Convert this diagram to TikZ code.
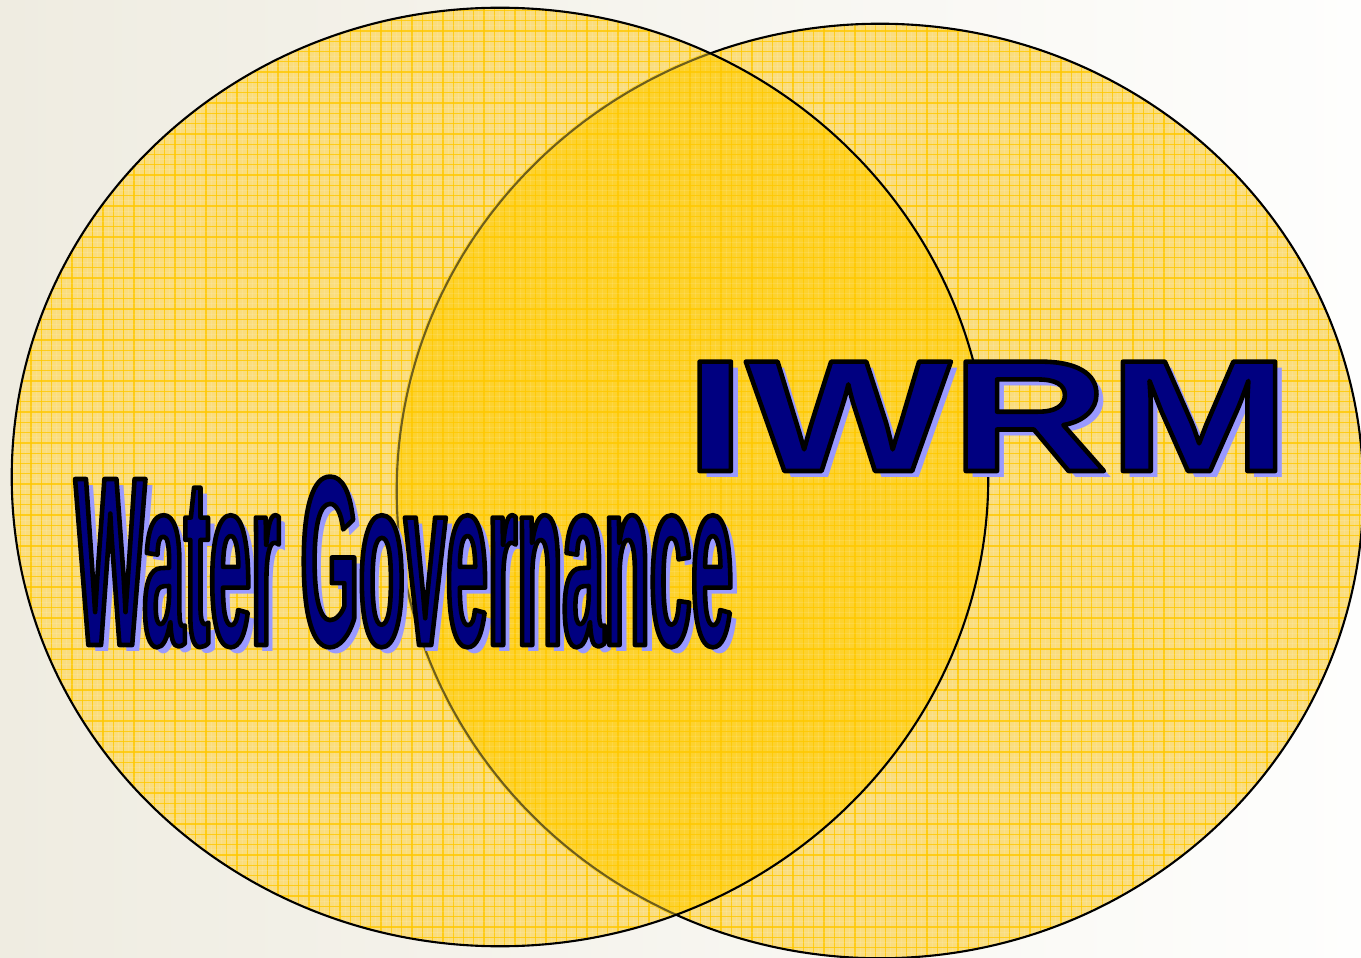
\documentclass[tikz,border=0pt]{standalone}
\usepackage{fontspec}
\setmainfont{Liberation Sans}
\newfontfamily\wgfont[FakeStretch=0.31]{Liberation Sans}
\newfontfamily\iwfont[FakeStretch=1.37]{Liberation Sans}
\definecolor{bgleft}{HTML}{EFECE1}
\definecolor{bgright}{HTML}{FEFEFD}
\definecolor{lightyel}{HTML}{FADD7E}
\definecolor{darkyel}{HTML}{FDD22E}
\definecolor{gridyel}{HTML}{FFC800}
\definecolor{dimline}{HTML}{6E5E1C}
\definecolor{navytext}{HTML}{000080}
\definecolor{shadowblue}{HTML}{9999FF}
\newcommand\WGtext{{\wgfont\bfseries\fontsize{68.6pt}{70pt}\selectfont Water Governance}}
\newcommand\IWtext{{\iwfont\bfseries\fontsize{45.2pt}{46pt}\selectfont IWRM}}
\newcommand\stroketext[1]{\special{pdf:literal direct 0 0 0 RG 1.3 w 1 j 2 Tr}#1\special{pdf:literal direct 0 Tr}}
\begin{document}
\begin{tikzpicture}[x=0.01cm,y=-0.01cm,
  lefte/.style={x radius=4.88cm, y radius=4.69cm},
  righte/.style={x radius=4.83cm, y radius=4.67cm},
  outline/.style={draw=black, line width=0.6pt},
  bigtext/.style={anchor=base west, inner sep=0pt, outer sep=0pt},
  gridline/.style={draw=gridyel, line width=0.35pt, opacity=0.8},
  finegrid/.style={draw=white, line width=0.3pt, opacity=0.1}]
\useasboundingbox (0,0) rectangle (1361,958);
\shade[left color=bgleft, right color=bgright] (0,0) rectangle (1361,958);
% fills
\coordinate (cl) at (500,477);
\coordinate (cr) at (880,491);
\fill[lightyel] (cr) ellipse [righte];
\fill[lightyel] (cl) ellipse [lefte];
\begin{scope}
  \clip (cl) ellipse [lefte];
  \fill[darkyel] (cr) ellipse [righte];
\end{scope}
% grid pattern
\begin{scope}
  \clip (cl) ellipse [lefte] (cr) ellipse [righte];
  \foreach \i in {0,...,133} {
    \draw[finegrid] (\i*10.3+5.15,0) -- (\i*10.3+5.15,958);
    \draw[gridline] (\i*10.3,0) -- (\i*10.3,958);
  }
  \foreach \j in {0,...,94} {
    \draw[finegrid] (0,\j*10.3+5.15) -- (1361,\j*10.3+5.15);
    \draw[gridline] (0,\j*10.3) -- (1361,\j*10.3);
  }
\end{scope}
% outlines
\draw[outline] (cr) ellipse [righte];
\begin{scope}
  \clip (cl) ellipse [lefte];
  \draw[darkyel, line width=1.2pt] (cr) ellipse [righte];
  \draw[dimline, line width=0.6pt] (cr) ellipse [righte];
\end{scope}
\draw[outline] (cl) ellipse [lefte];
% Water Governance
\coordinate (wgpos) at (75,645);
\node[bigtext, text=shadowblue] (wgshadow) at ([shift={(7,6)}]wgpos) {\WGtext};
\node[bigtext, text=navytext] (wg) at (wgpos) {\stroketext{\WGtext}};
% IWRM
\coordinate (iwpos) at (685,471);
\node[bigtext, text=shadowblue] (iwshadow) at ([shift={(7,6)}]iwpos) {\IWtext};
\node[bigtext, text=navytext] (iw) at (iwpos) {\stroketext{\IWtext}};
\end{tikzpicture}
\end{document}
